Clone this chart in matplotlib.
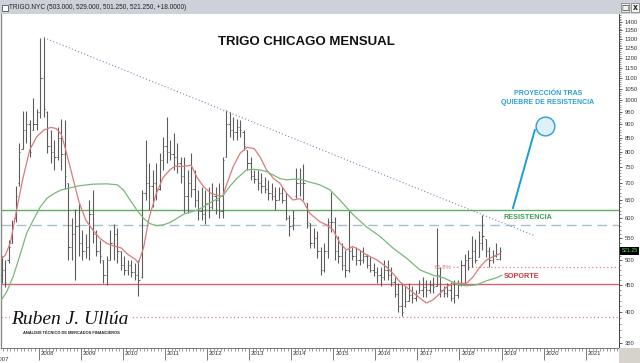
import matplotlib
matplotlib.use("Agg")
import matplotlib.pyplot as plt
from matplotlib import transforms, ticker
from matplotlib.patches import Rectangle

# monthly bars, month index 0 = Jan 2007
bar_high = [505, 510, 501, 546, 595, 690, 829, 953, 953, 917, 1007, 960,
            1305, 1311, 953, 878, 841, 890, 920, 917, 700, 600, 623, 640,
            570, 560, 650, 678, 570, 546, 501, 510, 570, 585, 575, 520,
            510, 501, 501, 494, 501, 678, 841, 760, 739, 760, 795, 851,
            930, 841, 866, 829, 783, 783, 739, 795, 739, 678, 688, 678,
            688, 698, 688, 698, 783, 958, 950, 930, 920, 917, 878, 806,
            783, 739, 739, 729, 717, 708, 698, 688, 688, 688, 668, 609,
            622, 745, 745, 758, 640, 587, 576, 568, 531, 540, 600, 672,
            604, 555, 539, 523, 622, 531, 531, 523, 531, 515, 508, 494,
            486, 486, 501, 501, 486, 466, 453, 453, 447, 453, 447, 440,
            460, 466, 460, 460, 466, 576, 486, 447, 453, 455, 460, 460,
            501, 515, 523, 555, 548, 568, 608, 548, 531, 523, 539, 529]
bar_low = [455, 453, 446, 494, 538, 590, 690, 810, 829, 783, 878, 878,
           923, 930, 794, 760, 739, 771, 739, 680, 501, 501, 460, 510,
           501, 505, 500, 538, 509, 494, 453, 450, 501, 501, 494, 480,
           470, 470, 465, 460, 429, 463, 649, 622, 630, 649, 678, 739,
           760, 771, 739, 729, 700, 613, 613, 658, 630, 595, 595, 585,
           600, 623, 610, 600, 600, 783, 851, 841, 841, 851, 806, 739,
           708, 698, 678, 668, 668, 649, 649, 622, 649, 640, 595, 556,
           570, 656, 660, 649, 575, 527, 528, 505, 470, 475, 505, 565,
           500, 494, 480, 466, 475, 501, 491, 491, 494, 483, 475, 467,
           454, 447, 460, 460, 447, 427, 400, 393, 409, 420, 416, 420,
           434, 427, 427, 434, 434, 447, 427, 427, 427, 420, 416, 425,
           447, 453, 480, 486, 494, 508, 523, 508, 486, 494, 508, 501.25]
bar_open = [490, 470, 480, 500, 540, 600, 700, 810, 880, 900, 880, 900,
            950, 1100, 950, 820, 800, 780, 850, 790, 700, 530, 560, 580,
            540, 520, 530, 610, 560, 520, 500, 470, 500, 540, 560, 520,
            490, 480, 490, 475, 470, 465, 670, 700, 690, 700, 680, 770,
            820, 800, 790, 780, 760, 720, 660, 700, 680, 650, 620, 610,
            640, 630, 660, 650, 620, 783, 900, 880, 870, 890, 870, 806,
            760, 720, 710, 700, 690, 680, 670, 660, 650, 670, 650, 600,
            580, 660, 700, 700, 640, 587, 540, 550, 520, 480, 520, 590,
            590, 520, 510, 490, 480, 520, 510, 500, 500, 510, 490, 480,
            475, 470, 465, 480, 470, 455, 432, 410, 410, 420, 430, 425,
            434, 440, 445, 440, 450, 447, 470, 440, 435, 440, 425, 430,
            450, 490, 500, 505, 520, 508, 540, 548, 520, 500, 510, 503]
bar_close = [470, 480, 455, 530, 580, 660, 800, 880, 900, 800, 900, 950,
             1100, 960, 820, 800, 780, 850, 790, 720, 530, 560, 580, 540,
             520, 530, 610, 560, 520, 510, 470, 500, 540, 560, 520, 490,
             480, 490, 475, 470, 460, 670, 700, 690, 700, 680, 770, 820,
             800, 790, 780, 760, 720, 660, 700, 680, 650, 620, 610, 640,
             630, 660, 650, 620, 770, 900, 880, 870, 890, 880, 820, 760,
             720, 710, 700, 690, 680, 670, 660, 650, 670, 650, 600, 580,
             600, 700, 700, 700, 590, 540, 550, 520, 480, 520, 590, 590,
             520, 510, 490, 480, 520, 510, 500, 500, 510, 490, 480, 475,
             470, 465, 480, 470, 455, 432, 410, 400, 420, 430, 425, 430,
             440, 445, 440, 450, 445, 470, 440, 435, 440, 425, 430, 450,
             490, 500, 505, 520, 500, 540, 555, 520, 500, 510, 503, 521.25]

# moving averages (month index, price)
red_ma_month = [0, 2, 3.5, 5, 7, 9, 11, 13, 15, 16.5, 18, 19.5, 21.5, 23, 25, 27, 29, 31,
                33, 35, 37, 39, 40, 41.5, 43, 45, 47, 49, 50.5, 52, 54, 55, 56.6, 58.5,
                60.5, 62.5, 64, 65, 67, 69, 71, 73, 74.6, 76.5, 78.5, 80.3, 82.2, 84, 86,
                87, 88.9, 91.7, 93.6, 95.5, 97.4, 99.3, 101, 103, 105, 108, 110.7, 112.6,
                114.5, 117.4, 120.2, 122.1, 124, 126, 128, 130, 133.5, 135.4, 137.3,
                139.2, 141, 143]
red_ma_val = [498, 511, 540, 610, 710, 806, 853, 878, 888, 884, 862, 795, 705, 645, 595,
              570, 550, 538, 532, 528, 513, 503, 494, 530, 600, 665, 715, 740, 752, 750,
              752, 755, 717, 688, 669, 662, 660, 690, 750, 795, 815, 810, 783, 739, 712,
              698, 668, 649, 653, 645, 612, 591, 583, 570, 539, 523, 531, 523, 512, 501,
              486, 472, 456, 440, 425, 416, 422, 434, 447, 453, 453, 466, 486, 501, 508,
              515]
green_ma_month = [0, 2.4, 4.3, 6.2, 8.1, 10, 12, 14, 16, 18, 20, 23, 27, 31, 34, 35.7,
                  37.6, 39.5, 41.4, 43.3, 45.2, 47.1, 49, 51, 53, 55, 57, 59, 61, 62.5,
                  64.2, 66, 68, 70.8, 72.7, 74.6, 76.5, 78.4, 80.3, 82.2, 84, 86, 88.9,
                  91.7, 94.6, 97.4, 101.2, 105, 108.8, 112.6, 116.4, 120.2, 124, 126.9,
                  129.7, 131.6, 133.5, 136.4, 139.2, 142.1, 143.5]
green_ma_val = [413, 436, 467, 511, 562, 595, 630, 655, 668, 678, 683, 690, 695, 696, 693,
                678, 649, 622, 600, 586, 581, 583, 589, 600, 611, 617, 622, 633, 645, 652,
                663, 688, 712, 739, 741, 739, 734, 723, 712, 708, 710, 710, 701, 693, 678,
                649, 609, 578, 555, 527, 505, 480, 469, 464, 455, 450, 448, 450, 458, 464,
                469]

resistance = 622
dashed_level = 583
support = 451
low_level = 392
fib_level = 486
trend_start = (2008.13, 1308)
trend_end = (2019.79, 556)
proj_start = (2019.27, 627)
proj_end = (2019.79, 878)
proj_target = (2020.03, 893)
last_price = bar_close[-1]
header = "TRIGO.NYC (503.000, 529.000, 501.250, 521.250, +18.0000)"
years = list(range(2008, 2022))
price_ticks = list(range(350, 1450, 50))


def month_x(m):
    return 2007 + (m + 0.5) / 12.0


W, H = 640, 363
fig = plt.figure(figsize=(6.4, 3.63), dpi=100)
fig.patch.set_facecolor("white")

# window title bar
fig.patches.append(Rectangle((0, 1 - 14 / H), 1, 14 / H, transform=fig.transFigure,
                             facecolor="#cdd1d9", edgecolor="none", zorder=0))
fig.patches.append(Rectangle((1.5 / W, 1 - 10.5 / H), 6 / W, 6 / H, transform=fig.transFigure,
                             facecolor="white", edgecolor="#555555", lw=0.6))
fig.text(9 / W, 1 - 7.5 / H, header, fontsize=4.7, family="Liberation Sans",
         color="#222222", va="center", ha="left")
for bx, sym in [(621, "□"), (631, "x")]:
    fig.patches.append(Rectangle((bx / W, 1 - 12 / H), 8 / W, 9 / H, transform=fig.transFigure,
                                 facecolor="#f4f4f4", edgecolor="#777777", lw=0.5))
    fig.text((bx + 4) / W, 1 - 7.5 / H, sym, fontsize=5.5, ha="center", va="center",
             color="#222222", weight="bold")
# bottom-right grey corner
fig.patches.append(Rectangle((619 / W, 0), 21 / W, 15 / H, transform=fig.transFigure,
                             facecolor="#d6d3cc", edgecolor="none"))

ax = fig.add_axes([1 / W, 15 / H, 618 / W, 334 / H])
ax.set_yscale("log")
ax.set_xlim(2007.109, 2021.789)
ax.set_ylim(342.6, 1449)

# OHLC bars
xs = [month_x(m) for m in range(len(bar_high))]
tw = 0.03
bar_col = "#5c5c5c"
ax.vlines(xs, bar_low, bar_high, colors=bar_col, lw=0.8, zorder=3)
ax.hlines(bar_open, [x - tw for x in xs], xs, colors=bar_col, lw=0.7, zorder=3)
ax.hlines(bar_close, xs, [x + tw for x in xs], colors=bar_col, lw=0.7, zorder=3)

# moving averages
ax.plot([month_x(m) for m in red_ma_month], red_ma_val, color="#d97b7b", lw=0.9, zorder=4)
ax.plot([month_x(m) for m in green_ma_month], green_ma_val, color="#78b878", lw=0.9, zorder=4)

# levels
ax.axhline(resistance, color="#5fae63", lw=1.0, zorder=2)
ax.axhline(dashed_level, color="#a9bfc9", lw=1.0, ls=(0, (7, 4)), zorder=2)
ax.axhline(support, color="#d6646e", lw=1.0, zorder=2)
ax.axhline(low_level, color="#e0808a", lw=0.9, ls=(0, (1, 2)), zorder=2)
ax.hlines(fib_level, 2017.84, 2021.789, color="#e0808a", lw=0.9, ls=(0, (1, 2)), zorder=2)
ax.text(2017.82, fib_level, "61.8%", fontsize=4.3, color="#d9707a", ha="right",
        va="center", family="Liberation Sans")

# trend line and projection
ax.plot([trend_start[0], trend_end[0]], [trend_start[1], trend_end[1]],
        color="#7f86b2", lw=0.8, ls=(0, (1, 2)), zorder=5)
ax.plot([proj_start[0], proj_end[0]], [proj_start[1], proj_end[1]],
        color="#1e9bd7", lw=1.4, zorder=5)
ax.plot([proj_target[0]], [proj_target[1]], marker="o", ms=13.5, mfc="#dff0fa",
        mec="#2a9fd6", mew=1.0, zorder=6)

bold_kw = dict(family="Liberation Sans", weight="bold", ha="center", va="center")
ax.text(2020.10, 1008, "PROYECCIÓN TRAS\nQUIEBRE DE RESISTENCIA", fontsize=5.0,
        color="#2aa0d4", linespacing=1.35, **bold_kw)
ax.text(2019.63, 601, "RESISTENCIA", fontsize=5.2, color="#3f9f52", **bold_kw)
ax.text(2019.47, 466, "SOPORTE", fontsize=5.2, color="#d2343f", **bold_kw)

ax.text(0.494, 0.9147, "TRIGO CHICAGO MENSUAL", transform=ax.transAxes, fontsize=9.5,
        family="Liberation Sans", weight="bold", ha="center", va="center",
        color="#111111")

# logo
ax.add_patch(Rectangle((9 / 618, (348 - 341) / 334), 121 / 618, 36 / 334,
                       transform=ax.transAxes, facecolor="white", edgecolor="none", zorder=7))
ax.text(69 / 618, (348 - 319) / 334, "Ruben J. Ullúa", transform=ax.transAxes,
        fontsize=14, family="Liberation Serif", style="italic", ha="center",
        va="center", color="#111111", zorder=8)
ax.text(70 / 618, (348 - 333) / 334, "ANÁLISIS TÉCNICO DE MERCADOS FINANCIEROS",
        transform=ax.transAxes, fontsize=2.9, family="Liberation Sans", weight="bold",
        ha="center", va="center", color="#222222", zorder=8)

# right price axis
ax.yaxis.tick_right()
ax.yaxis.set_major_locator(ticker.FixedLocator(price_ticks))
ax.yaxis.set_major_formatter(ticker.FixedFormatter([str(v) for v in price_ticks]))
ax.yaxis.set_minor_locator(ticker.FixedLocator([v for v in range(340, 1450, 10)
                                                if v % 50]))
ax.yaxis.set_minor_formatter(ticker.NullFormatter())
ax.tick_params(axis="y", which="major", length=2.5, width=0.6, color="#444444",
               labelsize=4.2, labelcolor="#333333", pad=1.8)
ax.tick_params(axis="y", which="minor", length=1.5, width=0.5, color="#666666")
for lbl in ax.get_yticklabels():
    lbl.set_family("Liberation Sans")

# time axis
ax.xaxis.set_major_locator(ticker.FixedLocator(years))
ax.xaxis.set_major_formatter(ticker.FixedFormatter([str(y) for y in years]))
ax.xaxis.set_minor_locator(ticker.FixedLocator([2007 + k / 12 for k in range(0, 15 * 12)]))
ax.tick_params(axis="x", which="major", length=8.5, width=0.6, color="#666666",
               labelsize=4.3, labelcolor="#333333", pad=-6.3)
ax.tick_params(axis="x", which="minor", length=2.2, width=0.5, color="#777777")
shift = transforms.ScaledTranslation(2 / 100, 0, fig.dpi_scale_trans)
for lbl in ax.get_xticklabels():
    lbl.set_horizontalalignment("left")
    lbl.set_family("Liberation Sans")
    lbl.set_transform(lbl.get_transform() + shift)
# 2007 label, cut by the window edge
ax.text(2006.975, -0.033, "2007", transform=ax.get_xaxis_transform(), fontsize=4.3,
        color="#333333", family="Liberation Sans", ha="left", va="center")

# price marker
price_tr = transforms.blended_transform_factory(ax.transAxes, ax.transData)
ax.text(1.004, last_price, f"{last_price:.2f}", transform=price_tr, fontsize=3.8,
        color="#5fe05f", ha="left", va="center", family="Liberation Sans",
        bbox=dict(boxstyle="square,pad=0.25", fc="black", ec="none"), zorder=9,
        clip_on=False)

ax.spines["top"].set_visible(False)
ax.spines["left"].set_color("#8a8a8a")
ax.spines["left"].set_linewidth(1.0)
ax.spines["right"].set_color("#444444")
ax.spines["right"].set_linewidth(0.7)
ax.spines["bottom"].set_color("#777777")
ax.spines["bottom"].set_linewidth(0.7)

fig.savefig("out.png", dpi=100)
